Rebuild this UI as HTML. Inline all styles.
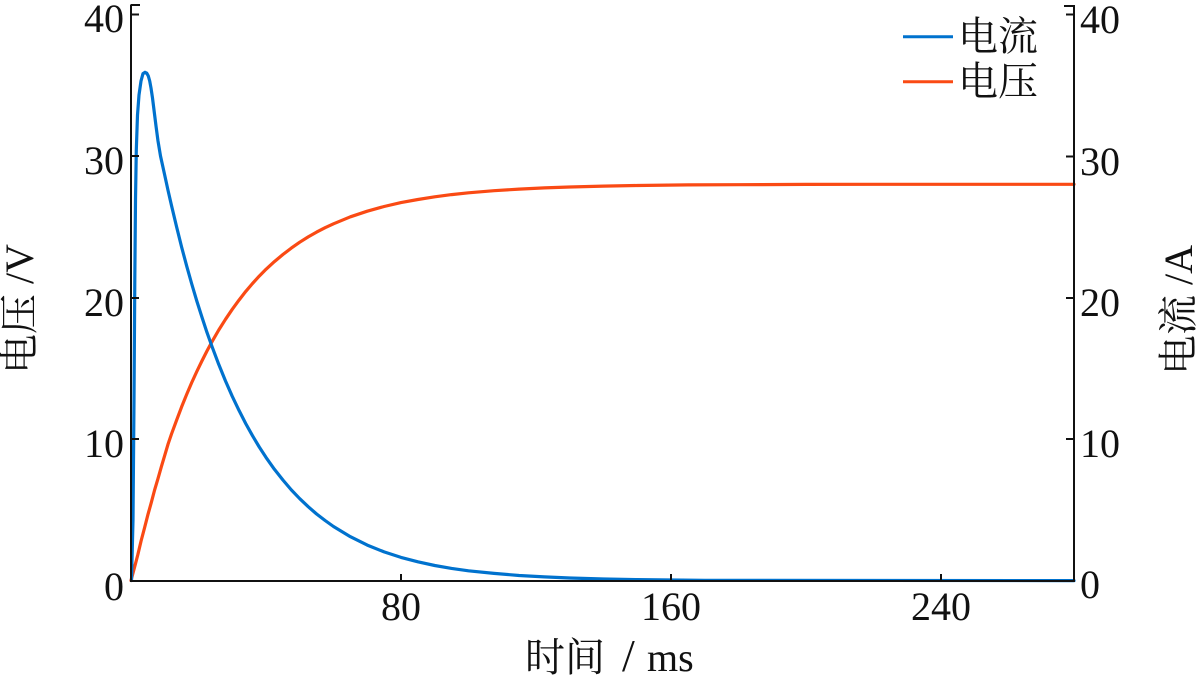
<!DOCTYPE html>
<html>
<head>
<meta charset="utf-8">
<style>
  html, body { margin:0; padding:0; background:#ffffff; }
  body { width:1200px; height:680px; overflow:hidden; }
  svg { display:block; }
  .num { font-family:"Liberation Serif", "Noto Serif CJK SC", serif; font-size:40px; fill:#111; }
  .cjk { font-family:"Liberation Serif", "Noto Serif CJK SC", "Noto Sans CJK SC", serif; font-size:40px; fill:#111; }
</style>
</head>
<body>
<svg width="1200" height="680" viewBox="0 0 1200 680" xmlns="http://www.w3.org/2000/svg">
  <rect x="0" y="0" width="1200" height="680" fill="#ffffff"/>

  <!-- Orange (voltage) series -->
  <polyline fill="none" stroke="#FA4A14" stroke-width="3.2" stroke-linejoin="round" stroke-linecap="round"
    points="131,580.5 134.4,567.8 137.75,555 141.1,540.9 144.5,528 147.9,514.7 151.25,502.7 154.6,490 158,478.6 161.4,466.6 164.75,455.3 168.1,444 171.5,434 176.6,420.2 181.6,406.9 186.7,394.3 191.75,382.5 196.8,371.5 201.9,361 206.9,351.1 212,341.7 218.75,330 225.5,319.3 232.25,309.3 239,300.1 245.75,291.4 252.5,283.5 259.25,276.1 266,269.3 274.4,261.6 282.9,254.5 291.3,248.1 299.75,242.2 308.2,236.9 316.6,232.1 325.1,227.7 333.5,223.8 350.4,216.8 367.25,211.2 384.1,206.5 401,202.6 417.9,199.5 434.75,196.8 451.6,194.6 468.5,192.8 494,190.7 519.1,189.1 544.4,187.9 569.75,187 603.5,186.1 637.25,185.5 688,184.9 738.5,184.7 806,184.4 873.5,184.3 1074,184.3"/>

  <!-- Blue (current) series -->
  <polyline fill="none" stroke="#0072CE" stroke-width="3.2" stroke-linejoin="round" stroke-linecap="round"
    points="131.5,580.5 133,520 134,400 134.8,280 135.5,200 136.3,150 137.5,115 139,95 141,81 143,73.6 145,72.3 146.8,73.2 148.3,76 149.7,81 151,88 152.5,98 154,110 156,126 158,141 160.5,156 164.75,175.3 168.1,190.7 171.5,205.5 176.6,226.9 181.6,247 186.7,266.1 191.75,284 196.8,301 201.9,317 206.9,332.2 212,346.5 218.75,364.4 225.5,381 232.25,396.3 239,410.4 245.75,423.6 252.5,435.7 259.25,447 266,457.4 274.4,469.3 282.9,480 291.3,489.9 299.75,498.7 308.2,506.7 316.6,514 325.1,520.5 333.5,526.5 350.4,536.7 367.25,545.1 384.1,551.9 401,557.4 417.9,561.8 434.75,565.5 451.6,568.4 468.5,570.8 494,573.4 519.1,575.5 544.4,576.9 569.75,578 603.5,579 637.25,579.6 704.75,580.3 1074,580.6"/>

  <!-- Axes -->
  <g stroke="#111" stroke-width="2" fill="none">
    <line x1="131" y1="4.5" x2="131" y2="581"/>
    <line x1="1074" y1="5" x2="1074" y2="581"/>
    <line x1="130" y1="581" x2="1075" y2="581"/>
    <!-- left ticks -->
    <line x1="131" y1="5" x2="140" y2="5"/>
    <line x1="131" y1="14.5" x2="139" y2="14.5"/>
    <line x1="131" y1="156" x2="139" y2="156"/>
    <line x1="131" y1="298" x2="139" y2="298"/>
    <line x1="131" y1="439" x2="139" y2="439"/>
    <!-- right ticks -->
    <line x1="1064" y1="6" x2="1074" y2="6"/>
    <line x1="1066" y1="14.5" x2="1074" y2="14.5"/>
    <line x1="1066" y1="156.5" x2="1074" y2="156.5"/>
    <line x1="1066" y1="298" x2="1074" y2="298"/>
    <line x1="1066" y1="439" x2="1074" y2="439"/>
    <!-- bottom ticks -->
    <line x1="401" y1="581" x2="401" y2="574"/>
    <line x1="671" y1="581" x2="671" y2="574"/>
    <line x1="941" y1="581" x2="941" y2="574"/>
  </g>

  <!-- Left tick labels -->
  <g class="num" text-anchor="end">
    <text x="124" y="600">0</text>
    <text x="124" y="457">10</text>
    <text x="124" y="316">20</text>
    <text x="124" y="174">30</text>
    <text x="124" y="32">40</text>
  </g>
  <!-- Right tick labels -->
  <g class="num" text-anchor="start">
    <text x="1080" y="598">0</text>
    <text x="1080" y="457">10</text>
    <text x="1080" y="316">20</text>
    <text x="1080" y="175">30</text>
    <text x="1080" y="33">40</text>
  </g>
  <!-- Bottom tick labels -->
  <g class="num" text-anchor="middle">
    <text x="401" y="620">80</text>
    <text x="671" y="620">160</text>
    <text x="941" y="620">240</text>
  </g>

  <!-- X axis title -->
  <text class="cjk" y="671"><tspan x="525">时间</tspan><tspan x="622" font-size="46">/</tspan><tspan x="647">ms</tspan></text>

  <!-- Left Y axis title -->
  <text class="cjk" text-anchor="middle" transform="translate(33,309) rotate(-90)">电压 /V</text>

  <!-- Right Y axis title -->
  <text class="cjk" text-anchor="middle" transform="translate(1192,310) rotate(-90)">电流 /A</text>

  <!-- Legend -->
  <line x1="903" y1="36.7" x2="953" y2="36.7" stroke="#0072CE" stroke-width="3"/>
  <line x1="903" y1="81.7" x2="953" y2="81.7" stroke="#FA4A14" stroke-width="3"/>
  <text class="cjk" x="958" y="50">电流</text>
  <text class="cjk" x="958" y="95">电压</text>
</svg>
</body>
</html>
